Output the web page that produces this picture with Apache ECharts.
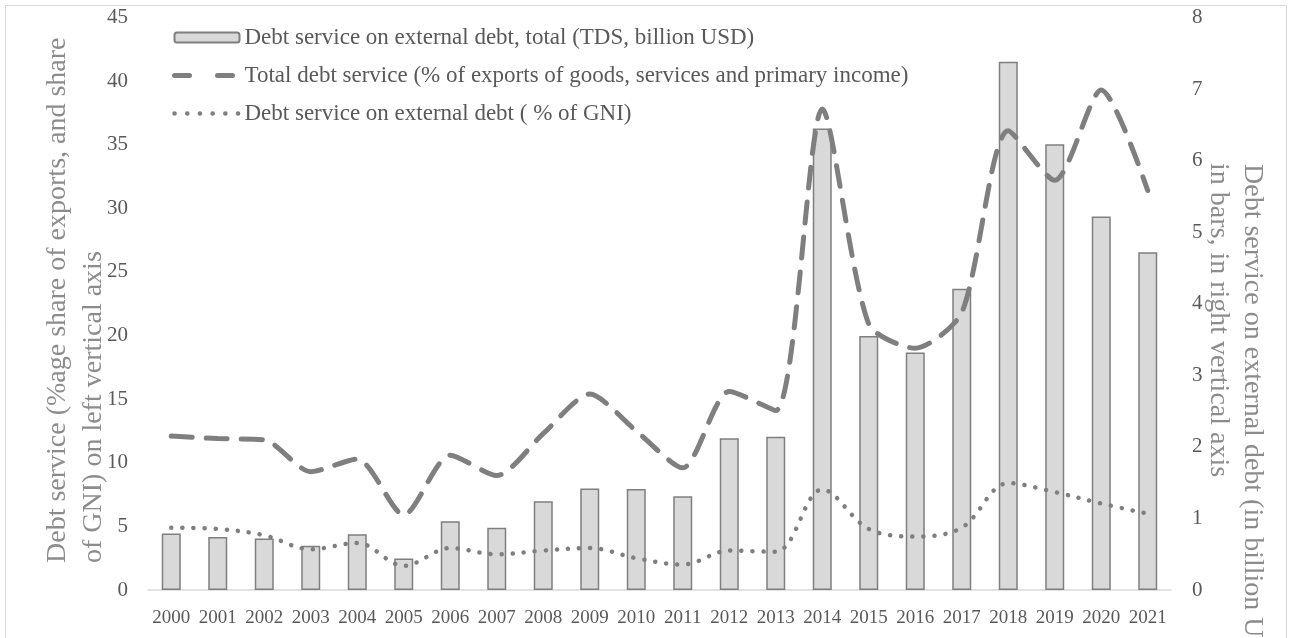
<!DOCTYPE html>
<html>
<head>
<meta charset="utf-8">
<script src="https://cdn.jsdelivr.net/npm/echarts@6/dist/echarts.min.js"></script>
<style>
  html, body { margin: 0; padding: 0; background: #ffffff; }
  #chart { width: 1291px; height: 638px; }
</style>
</head>
<body>
<div id="chart"></div>
<script>
// Years on the category axis
const years = ['2000','2001','2002','2003','2004','2005','2006','2007','2008','2009','2010',
               '2011','2012','2013','2014','2015','2016','2017','2018','2019','2020','2021'];

// Debt service on external debt, total (TDS, billion USD) - right axis, bars
const tdsBillionUsd = [0.79, 0.74, 0.72, 0.62, 0.78, 0.44, 0.96, 0.87, 1.24, 1.42, 1.41,
                       1.31, 2.12, 2.14, 6.45, 3.55, 3.32, 4.21, 7.38, 6.23, 5.22, 4.72];

// Total debt service (% of exports of goods, services and primary income) - left axis
const tdsPctExports = [12.1, 11.9, 11.8, 9.3, 10.3, 5.9, 10.6, 9.0, 12.3, 15.4, 12.5,
                       9.6, 15.6, 14.1, 37.8, 20.9, 19.0, 21.8, 36.1, 32.2, 39.3, 31.4];

// Debt service on external debt (% of GNI) - left axis
const tdsPctGni = [4.9, 4.8, 4.3, 3.2, 3.7, 1.9, 3.3, 2.8, 3.1, 3.3, 2.5,
                   2.0, 3.1, 3.0, 7.9, 4.8, 4.2, 4.9, 8.4, 7.7, 6.8, 6.0];

const seriesNames = [
  'Debt service on external debt, total (TDS, billion USD)',
  'Total debt service (% of exports of goods, services and primary income)',
  'Debt service on external debt ( % of GNI)'
];
const leftAxisTitle = ['Debt service (%age share of exports, and share', 'of GNI) on left vertical axis'];
const rightAxisTitle = ['Debt service on external debt (in billion USD)', 'in bars, in right vertical axis'];

const serif = '"Liberation Serif", "DejaVu Serif", serif';
const labelGrey = '#595959';
const titleGrey = '#8c8c8c';
const lineGrey = '#7f7f7f';

const dashed = { color: lineGrey, width: 5, type: [21, 14], cap: 'round' };
const dotted = { color: lineGrey, width: 4.5, type: [0.1, 11], cap: 'round' };

const chart = echarts.init(document.getElementById('chart'), null, { renderer: 'canvas' });

chart.setOption({
  animation: false,
  backgroundColor: '#ffffff',
  textStyle: { fontFamily: serif },
  grid: { left: 148, right: 120, top: 17.5, bottom: 48, containLabel: false },
  legend: {
    orient: 'vertical',
    left: 167,
    top: 21,
    itemWidth: 65,
    itemHeight: 10,
    itemGap: 15,
    textStyle: { fontFamily: serif, fontSize: 23, color: labelGrey },
    data: [
      { name: seriesNames[0] },
      {
        name: seriesNames[1],
        itemStyle: { opacity: 0 },
        lineStyle: { color: lineGrey, width: 5, type: [15, 28], cap: 'round' }
      },
      {
        name: seriesNames[2],
        itemStyle: { opacity: 0 },
        lineStyle: { color: lineGrey, width: 4.5, type: [0.1, 12.6], cap: 'round' }
      }
    ]
  },
  xAxis: {
    type: 'category',
    data: years,
    axisLine: { show: true, lineStyle: { color: '#d9d9d9', width: 1.5 } },
    axisTick: { show: false },
    axisLabel: { fontFamily: serif, fontSize: 19, color: labelGrey, margin: 19, interval: 0 }
  },
  yAxis: [
    {
      type: 'value',
      min: 0, max: 45, interval: 5,
      axisLine: { show: false },
      axisTick: { show: false },
      splitLine: { show: false },
      axisLabel: { fontFamily: serif, fontSize: 21, color: labelGrey, margin: 20 }
    },
    {
      type: 'value',
      min: 0, max: 8, interval: 1,
      axisLine: { show: false },
      axisTick: { show: false },
      splitLine: { show: false },
      axisLabel: { fontFamily: serif, fontSize: 21, color: labelGrey, margin: 21, align: 'left' }
    }
  ],
  series: [
    {
      name: seriesNames[0],
      type: 'bar',
      yAxisIndex: 1,
      data: tdsBillionUsd,
      barWidth: 19,
      itemStyle: { color: '#d9d9d9', borderColor: lineGrey, borderWidth: 1.5 }
    },
    {
      name: seriesNames[1],
      type: 'line',
      yAxisIndex: 0,
      data: tdsPctExports,
      smooth: 0.25,
      symbol: 'none',
      itemStyle: { color: lineGrey },
      lineStyle: dashed
    },
    {
      name: seriesNames[2],
      type: 'line',
      yAxisIndex: 0,
      data: tdsPctGni,
      smooth: 0.35,
      symbol: 'none',
      itemStyle: { color: lineGrey },
      lineStyle: dotted
    }
  ],
  graphic: [
    {
      type: 'rect',
      shape: { x: 5.5, y: 5.5, width: 1281, height: 650 },
      style: { fill: 'none', stroke: '#d9d9d9', lineWidth: 1 },
      silent: true, z: -1
    },
    {
      type: 'text', x: 58, y: 563, rotation: Math.PI / 2,
      style: { text: leftAxisTitle[0], font: '28px ' + serif, fill: titleGrey, textAlign: 'left', textVerticalAlign: 'middle' }
    },
    {
      type: 'text', x: 94, y: 563, rotation: Math.PI / 2,
      style: { text: leftAxisTitle[1], font: '28px ' + serif, fill: titleGrey, textAlign: 'left', textVerticalAlign: 'middle' }
    },
    {
      type: 'text', x: 1252, y: 164, rotation: -Math.PI / 2,
      style: { text: rightAxisTitle[0], font: '28px ' + serif, fill: titleGrey, textAlign: 'left', textVerticalAlign: 'middle' }
    },
    {
      type: 'text', x: 1218, y: 163, rotation: -Math.PI / 2,
      style: { text: rightAxisTitle[1], font: '28px ' + serif, fill: titleGrey, textAlign: 'left', textVerticalAlign: 'middle' }
    }
  ]
});
</script>
</body>
</html>
